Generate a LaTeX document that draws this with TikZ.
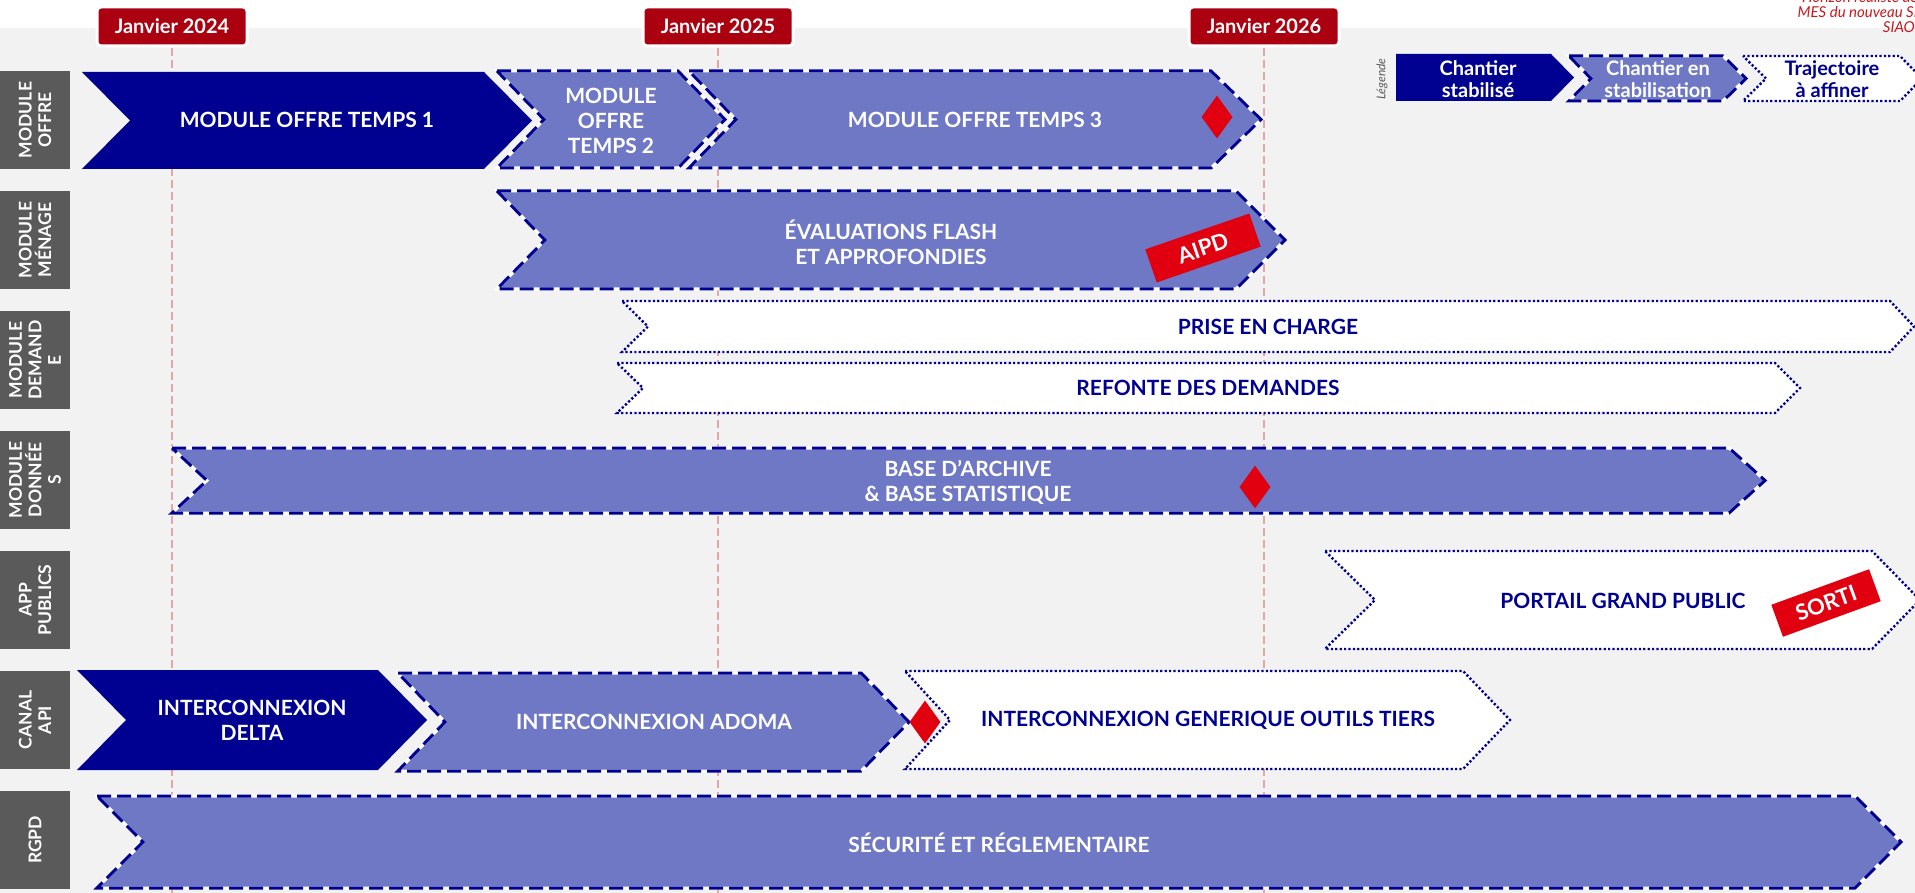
\documentclass[tikz,border=0pt]{standalone}
\usepackage{fontspec}
\setmainfont{Lato}
\usetikzlibrary{shapes.geometric}
\definecolor{navy}{HTML}{000091}
\definecolor{lightc}{HTML}{6F78C4}
\definecolor{bgc}{HTML}{F2F2F2}
\definecolor{labc}{HTML}{5A5A5A}
\definecolor{tagc}{HTML}{AA000F}
\definecolor{redc}{HTML}{E1000F}
\definecolor{pinkc}{HTML}{E3A6AA}
\definecolor{horc}{HTML}{C9191E}
\newcommand\chevron[7]{%
  \path[#7] (#1,#3) -- ({#2-#6},#3) -- (#2,{(#3+#4)/2}) -- ({#2-#6},#4) -- (#1,#4) -- ({#1+#5},{(#3+#4)/2}) -- cycle;}
\tikzset{
  navybox/.style={fill=navy},
  lightbox/.style={fill=lightc,
    postaction={draw=white, line width=3pt},
    postaction={draw=navy, line width=3pt, dash pattern=on 14pt off 6pt}},
  dotbox/.style={fill=white, draw=navy, line width=2.4pt, dash pattern=on 2.2pt off 2.2pt},
  wtxt/.style={text=white, font=\fontsize{21}{25}\selectfont\bfseries, align=center, inner sep=0pt},
  ntxt/.style={text=navy, font=\fontsize{21}{25}\selectfont\bfseries, align=center, inner sep=0pt},
  sidelab/.style={fill=labc, rotate=90, minimum width=98pt, minimum height=70pt, inner sep=0pt,
    text=white, align=center, font=\fontsize{17.5}{19.5}\selectfont\bfseries},
  tagbox/.style={fill=tagc, draw=white, line width=3pt, rounded corners=4pt, minimum width=150pt,
    minimum height=39pt, inner sep=0pt, text=white, font=\fontsize{20}{24}\selectfont\bfseries},
  vline/.style={pinkc, line width=2pt, dash pattern=on 8pt off 4pt},
  diam/.style={diamond, fill=redc, minimum width=31pt, minimum height=43pt, inner sep=0pt},
  stamp/.style={fill=redc, text=white, font=\fontsize{22}{24}\selectfont\bfseries, inner sep=0pt},
  legtxt/.style={font=\fontsize{20}{22}\selectfont\bfseries, align=center, inner sep=0pt},
  hortxt/.style={text=horc, font=\fontsize{15}{15}\selectfont\itshape, inner sep=0pt, anchor=base east}
}
\begin{document}
\begin{tikzpicture}[x=1pt,y=-1pt]
\useasboundingbox (0,0) rectangle (1915,893);
\clip (0,0) rectangle (1915,893);
\fill[white] (0,0) rectangle (1915,28);
\fill[bgc] (0,28) rectangle (1915,893);

% year markers (lines drawn first, tags later)
\coordinate (b24) at (172,893);
\coordinate (b25) at (718,893);
\coordinate (b26) at (1264,893);
\coordinate (t24) at (172,48);
\coordinate (t25) at (718,48);
\coordinate (t26) at (1264,48);
\draw[vline] (t24) -- (b24);
\draw[vline] (t25) -- (b25);
\draw[vline] (t26) -- (b26);

% side labels
\node[sidelab] (lab1) at (35,120) {MODULE\\OFFRE};
\node[sidelab] (lab2) at (35,240) {MODULE\\MÉNAGE};
\node[sidelab] (lab3) at (35,360) {MODULE\\DEMAND\\E};
\node[sidelab] (lab4) at (35,480) {MODULE\\DONNÉE\\S};
\node[sidelab] (lab5) at (35,600) {APP\\PUBLICS};
\node[sidelab] (lab6) at (35,720) {CANAL\\API};
\node[sidelab] (lab7) at (35,840) {RGPD};

% row 1
\chevron{82}{532}{72}{169}{48}{48}{navybox}
\chevron{497}{725}{71}{168}{47}{47}{lightbox}
\chevron{689}{1261}{71}{168}{47}{50}{lightbox}
\node[wtxt] (t1) at (307,120) {MODULE OFFRE TEMPS 1};
\node[wtxt] (t2) at (611,121) {MODULE\\OFFRE\\TEMPS 2};
\node[wtxt] (t3) at (975,120) {MODULE OFFRE TEMPS 3};
\node[diam] (d1) at (1217,117) {};

% row 2
\chevron{497}{1285}{191}{289}{48}{49}{lightbox}
\node[wtxt] (ev) at (891,242) {ÉVALUATIONS FLASH\\ET APPROFONDIES};
\node[stamp, minimum width=110pt, minimum height=35pt, rotate=19] (aipd) at (1203,248) {AIPD};

% row 3
\chevron{622}{1914}{301}{352}{26}{24}{dotbox}
\chevron{617}{1800}{363}{413}{26}{25}{dotbox}
\node[ntxt] (pc) at (1268,327) {PRISE EN CHARGE};
\node[ntxt] (rd) at (1208,388) {REFONTE DES DEMANDES};

% row 4
\chevron{172}{1765}{448}{513}{35}{36}{lightbox}
\node[wtxt] (base) at (968,482) {BASE D’ARCHIVE\\\& BASE STATISTIQUE};
\node[diam] (d2) at (1255,487) {};

% row 5
\chevron{1325}{1920}{551}{649}{50}{48}{dotbox}
\node[ntxt] (pgp) at (1623,601) {PORTAIL GRAND PUBLIC};
\node[stamp, minimum width=104pt, minimum height=34pt, rotate=20] (sorti) at (1826,603) {SORTI};

% row 6
\chevron{77}{427}{670}{770}{49}{49}{navybox}
\chevron{398}{909}{673}{771}{47}{48}{lightbox}
\chevron{905}{1510}{671}{769}{45}{47}{dotbox}
\node[wtxt] (delta) at (252,720) {INTERCONNEXION\\DELTA};
\node[wtxt] (adoma) at (654,722) {INTERCONNEXION ADOMA};
\node[ntxt] (gen) at (1208,720) {INTERCONNEXION GENERIQUE OUTILS TIERS};
\node[diam] (d3) at (925,722) {};

% row 7
\chevron{97}{1901}{796}{888}{46}{46}{lightbox}
\node[wtxt] (rgpd) at (999,843) {SÉCURITÉ ET RÉGLEMENTAIRE};

% year tags
\node[tagbox] (tag24) at (172,26.5) {Janvier 2024};
\node[tagbox] (tag25) at (718,26.5) {Janvier 2025};
\node[tagbox] (tag26) at (1264,26.5) {Janvier 2026};

% legend
\node[rotate=90, text=labc, font=\fontsize{12}{12}\selectfont\itshape, inner sep=0pt] (leg) at (1382,79) {Légende};
\chevron{1396}{1574}{54}{101}{0}{23}{navybox}
\chevron{1569}{1746}{56}{101}{22}{23}{lightbox}
\chevron{1743}{1922}{56}{101}{23}{22}{dotbox}
\node[legtxt, text=white] (lg1) at (1478,79) {Chantier\\stabilisé};
\node[legtxt, text=white] (lg2) at (1658,79) {Chantier en\\stabilisation};
\node[legtxt, text=navy] (lg3) at (1832,79) {Trajectoire\\à affiner};

% horizon note (cut by the page edge)
\node[hortxt] (hz1) at (1918,3) {Horizon réaliste de};
\node[hortxt] (hz2) at (1918,18) {MES du nouveau SI};
\node[hortxt] (hz3) at (1915,33) {SIAO};
\end{tikzpicture}
\end{document}
